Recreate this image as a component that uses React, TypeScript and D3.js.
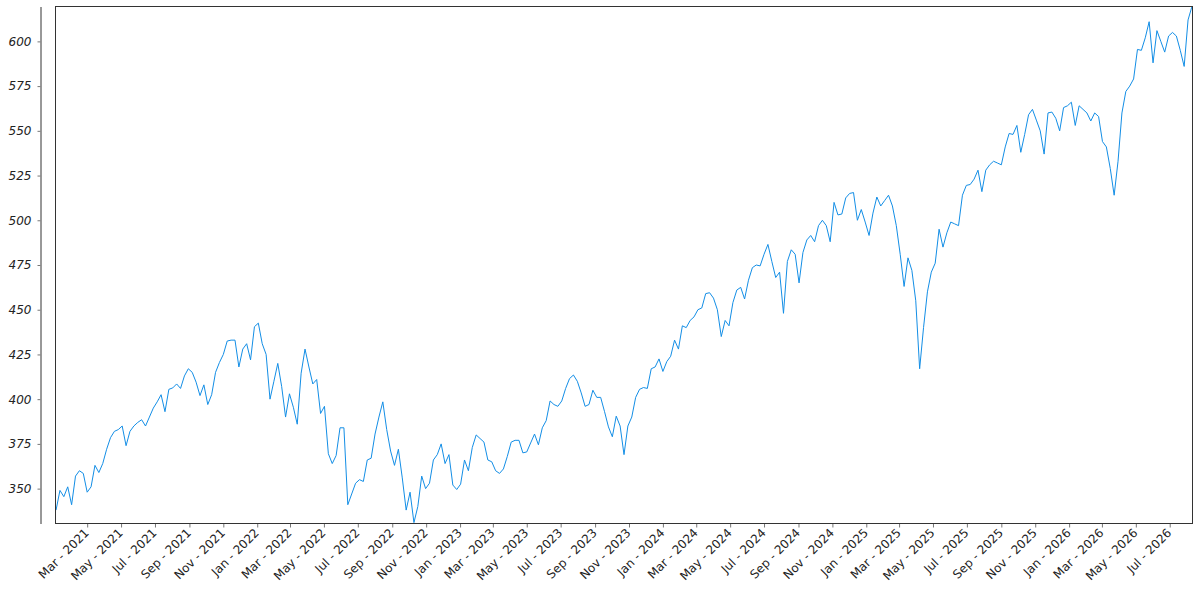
import { useEffect, useRef } from 'react'
import * as d3 from 'd3'

// weekly closes, one value per Monday starting 2021-01-04
const closes2021 = [
  338, 349, 345.5, 351, 341, 357, 360, 358.5, 348, 351, 363, 359, 364, 372, 378.5, 382,
  383, 385, 374, 382, 385, 387, 388.5, 385, 390, 395, 398.5, 402.5, 393, 405.5, 406.3, 408.5,
  406, 413, 417, 415, 409.5, 402, 408, 397, 402.5, 415, 420.5, 425, 432.5, 433, 433, 418,
  428, 431, 422, 440.5,
]
const closes2022 = [
  442.5, 431, 425, 400, 410, 420, 407, 390, 403, 395.5, 386, 414.5, 428, 418, 408.5, 411,
  392, 396, 369.5, 364, 368.5, 384, 384, 341, 347, 353, 355, 354, 366, 367, 380.5, 390,
  398.5, 383, 371, 363, 372, 356, 338, 348, 331, 340, 357, 350, 353, 366, 369, 375,
  364, 369, 352, 349.5,
]
const closes2023 = [
  352.5, 366, 360, 373, 380, 378, 376, 366, 365, 360, 358.5, 361, 368, 376, 377, 377,
  370, 370.5, 375.5, 380.5, 374.5, 384, 388, 399, 397, 396, 399, 406, 411.5, 413.5, 410, 403.5,
  396, 397, 405, 401, 401, 393, 384.5, 379, 390.5, 385, 369, 385, 390, 401, 405.5, 406.5,
  406, 417, 418, 422.5,
]
const closes2024 = [
  415.5, 421, 424, 433, 428, 441, 440, 444, 446, 450, 451, 459, 459.5, 456.5, 450, 435,
  444, 441, 454, 461, 462.5, 456, 466.5, 473.5, 475, 474.5, 481, 486.5, 477, 468, 471, 448,
  477, 483.5, 481, 465, 482, 489, 491.5, 488, 497, 500, 497, 488, 510, 503, 503.5, 512.5,
  515, 515.5, 500, 506, 499,
]
const closes2025 = [
  491.5, 504, 513, 508, 511, 514, 508, 497, 481, 463, 479, 472, 455, 417, 440, 460,
  471, 476, 495, 485, 493, 499, 498, 497, 514, 519.5, 520, 523, 528, 516, 528, 531,
  533, 532, 531, 541, 548.5, 548, 553, 538, 548, 559, 562, 556, 550, 537, 560, 560.5,
  557, 550, 563, 564,
]
const closes2026 = [
  566, 553, 564, 562, 560, 555.5, 560, 558, 544, 541, 529, 514, 533, 560, 572, 575,
  579, 595.5, 595, 602, 611, 588, 606, 600, 594, 603, 605, 603, 595, 586, 612, 619.5,
]

const closes = [...closes2021, ...closes2022, ...closes2023, ...closes2024, ...closes2025, ...closes2026]
const firstWeek = new Date(2021, 0, 4)
const dateStart = new Date(2021, 0, 3)
const dateEnd = new Date(2026, 7, 11)
const yTicks = [350, 375, 400, 425, 450, 475, 500, 525, 550, 575, 600]
const yMin = 330.5
const yMax = 619.5

const points = closes.map((v, i) => ({ date: d3.timeDay.offset(firstWeek, i * 7), value: v }))

export default function App() {
  const svgRef = useRef<SVGSVGElement>(null)
  const width = 1200
  const height = 600

  useEffect(() => {
    if (!svgRef.current) return
    const svg = d3.select(svgRef.current)
    svg.selectAll('*').remove()

    const left = 55.5
    const right = 1192.5
    const top = 6.5
    const bottom = 523.5
    const axisX = 40.5

    const x = d3.scaleTime().domain([dateStart, dateEnd]).range([left, right])
    const y = d3.scaleLinear().domain([yMin, yMax]).range([bottom, top])

    // y axis, detached from the frame
    const yAxis = svg.append('g')
      .attr('transform', `translate(${axisX},0)`)
      .call(d3.axisLeft(y).tickValues(yTicks).tickSize(3).tickSizeOuter(0).tickPadding(6))
    yAxis.select('.domain').attr('stroke', '#333')
    yAxis.selectAll('.tick line').attr('stroke', '#777')
    yAxis.selectAll('.tick text')
      .style('font-family', '"DejaVu Sans", sans-serif')
      .style('font-size', '12px')
      .style('font-style', 'italic')
      .attr('fill', '#222')

    // plotted line
    const line = d3.line<{ date: Date; value: number }>()
      .x(d => x(d.date))
      .y(d => y(d.value))

    svg.append('path')
      .datum(points)
      .attr('d', line)
      .attr('fill', 'none')
      .attr('stroke', '#138ee6')
      .attr('stroke-width', 1)
      .attr('stroke-linejoin', 'round')

    // x axis with rotated month labels
    const xAxis = svg.append('g')
      .attr('transform', `translate(0,${bottom})`)
      .call(d3.axisBottom(x)
        .ticks(d3.timeMonth.every(2))
        .tickFormat(d => d3.timeFormat('%b - %Y')(d as Date))
        .tickSize(4)
        .tickSizeOuter(0))
    xAxis.select('.domain').remove()
    xAxis.selectAll('.tick line').attr('stroke', '#777')
    xAxis.selectAll('.tick text')
      .attr('y', 0)
      .attr('dy', 0)
      .attr('text-anchor', 'end')
      .attr('transform', 'translate(2,10) rotate(-45)')
      .style('font-family', '"DejaVu Sans", sans-serif')
      .style('font-size', '12px')
      .attr('fill', '#222')

    // frame
    svg.append('rect')
      .attr('x', left)
      .attr('y', top)
      .attr('width', right - left)
      .attr('height', bottom - top)
      .attr('fill', 'none')
      .attr('stroke', '#333')
      .attr('stroke-width', 1)
  }, [])

  return (
    <svg
      ref={svgRef}
      width={width}
      height={height}
      style={{ position: 'absolute', left: 0, top: 0, background: '#fff' }}
    />
  )
}
